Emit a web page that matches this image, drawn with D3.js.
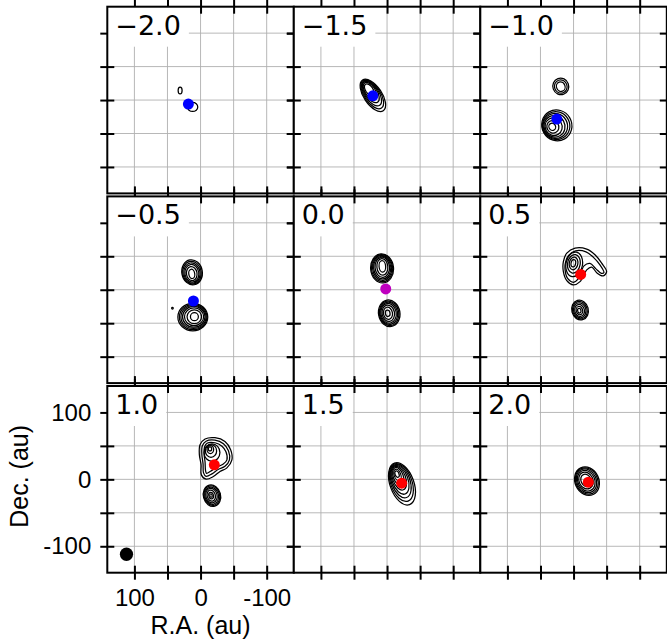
<!DOCTYPE html>
<html><head><meta charset="utf-8">
<script src="https://cdn.jsdelivr.net/npm/d3@7"></script>
<style>body{margin:0;background:#fff}</style>
</head><body>
<svg id="c" width="667" height="643"></svg>
<script>
// ---------- data ----------
const channels = ["\u22122.0","\u22121.5","\u22121.0","\u22120.5","0.0","0.5","1.0","1.5","2.0"];
const tickVals = [-100,-50,0,50,100];
const labelTicks = [100,0,-100];

// marker position (au) per channel
const dotRA  = [18.4, 21.5, 25.3, 10.8, 2.0, -10.8, -20.8, -22.1, -22.3];
const dotDec = [-6.0, 6.4, -28.5, -16.8, 1.2, 22.9, 21.7, -5.7, -4.2];
const dotSide = ["blue","blue","blue","blue","sys","red","red","red","red"];

// beam (au)
const beamRA = 112, beamDec = -112, beamMaj = 20, beamMin = 20;

// elliptical contour rings: [channel, RA, Dec, semi-axis a, semi-axis b, tilt deg]
const rings = [
 [0, 30.9, 14.4, 3, 5, 0],
 [0, 12, -10.3, 7.8, 6.8, 0],
 [1, 21.4, 7.0, 28, 13.5, 56],
 [1, 22.4, 8.6, 25, 12, 56],
 [1, 23.4, 10.2, 22, 10.5, 56],
 [1, 24.6, 12.0, 18.5, 9, 56],
 [1, 25.8, 13.8, 14.5, 7.5, 56],
 [1, 27.0, 15.5, 10, 5.5, 56],
 [2, 19.3, 20.4, 12, 12.5, -20],
 [2, 19.3, 20.2, 9.5, 10, -20],
 [2, 19.3, 20.0, 6.5, 7.2, -20],
 [2, 25.3, -37.8, 22.6, 23.3, -30],
 [2, 26.3, -38.2, 20.5, 21, -30],
 [2, 27.5, -38.7, 18.3, 18.8, -30],
 [2, 28.8, -39.3, 15.8, 16.3, -30],
 [2, 30.1, -39.8, 12.8, 13.3, -30],
 [2, 31.3, -40, 9, 9.5, -30],
 [2, 32.2, -40, 5, 5.5, -30],
 [3, 12.8, 26, 15.5, 18.8, -10],
 [3, 12.9, 25.5, 14, 17, -10],
 [3, 13.0, 25.0, 12.3, 15.2, -10],
 [3, 13.1, 24.6, 10.5, 13.2, -10],
 [3, 13.3, 24.1, 8, 10.5, -10],
 [3, 13.3, 23.7, 4.5, 7, -10],
 [3, 11.7, -40.8, 22.6, 20.6, 0],
 [3, 11.2, -40.7, 20.8, 19, 0],
 [3, 10.7, -40.6, 19, 17.3, 0],
 [3, 10.2, -40.5, 17, 15.5, 0],
 [3, 9.8, -40.4, 14.5, 13.3, 0],
 [3, 9.4, -40.3, 11, 10.3, 0],
 [3, 9.3, -40.3, 6, 6, 0],
 [3, 42.5, -27.7, 1.2, 1.2, 0],
 [4, 7.5, 31.9, 17.3, 21.8, -5],
 [4, 7.5, 32.3, 16, 20.3, -5],
 [4, 7.4, 32.7, 14.5, 18.7, -5],
 [4, 7.3, 33.1, 13, 17, -5],
 [4, 7.2, 33.6, 11, 15, -5],
 [4, 7.1, 34.2, 8.3, 12.5, -5],
 [4, 7.1, 34.9, 5, 8.5, -5],
 [4, -3.3, -35.2, 16.2, 20, -10],
 [4, -3.0, -35.2, 14.8, 18.4, -10],
 [4, -2.7, -35.2, 13.3, 16.7, -10],
 [4, -2.3, -35.2, 11.6, 14.8, -10],
 [4, -1.9, -35.2, 9.4, 12.3, -10],
 [4, -1.4, -35.2, 6.8, 9.2, -10],
 [4, -1.0, -35.2, 3.5, 4.8, -10],
 [5, -1.0, 38.0, 12.5, 18.5, 10],
 [5, -0.5, 38.7, 9.5, 14, 10],
 [5, 0.0, 39.3, 6.5, 9.5, 10],
 [5, 0.3, 39.7, 3.5, 5.5, 10],
 [5, -9.8, -30.3, 12.5, 15, -15],
 [5, -9.6, -30.5, 11, 13.3, -15],
 [5, -9.4, -30.7, 9.3, 11.3, -15],
 [5, -9.1, -30.9, 7.3, 9, -15],
 [5, -8.9, -31.1, 4.8, 6.3, -15],
 [5, -8.7, -31.3, 2.5, 3.5, -15],
 [6, -17.3, 40.0, 12, 13, 0],
 [6, -15.8, 42.5, 8.5, 9.5, 0],
 [6, -14.8, 44.5, 5, 6, 0],
 [6, -14.3, 45.5, 2.5, 3, 0],
 [6, -17.3, -24.4, 13, 16.2, -15],
 [6, -17.1, -24.4, 11.8, 14.8, -15],
 [6, -16.8, -24.4, 10.3, 13, -15],
 [6, -16.5, -24.3, 8.5, 11, -15],
 [6, -16.2, -24.3, 6.2, 8.5, -15],
 [6, -16.0, -24.3, 3.5, 5, -15],
 [6, -15.8, -24.3, 1.8, 2.5, -15],
 [7, -22.6, -6.7, 18, 33, -20],
 [7, -21.6, -4.7, 16, 29.5, -20],
 [7, -20.6, -2.7, 14, 26, -20],
 [7, -19.6, -0.7, 12, 22.5, -20],
 [7, -18.3, 1.8, 9.8, 18.5, -20],
 [7, -17.0, 4.3, 7.5, 14, -20],
 [7, -15.8, 6.5, 5, 9, -20],
 [7, -15.1, 7.8, 3, 5, -20],
 [8, -20.3, -2.7, 18, 22, -25],
 [8, -20.0, -2.5, 16.5, 20.3, -25],
 [8, -19.6, -2.2, 14.8, 18.3, -25],
 [8, -19.2, -2.0, 12.8, 16, -25],
 [8, -18.8, -1.7, 10.5, 13, -25],
 [8, -18.8, -1.5, 7.5, 9.5, -25]
];

// irregular contours as [RA, Dec] (au)
const hook05Outer = [[15.4,42.1],[10.2,54.7],[-2.3,62.2],[-19.9,60.7],[-32.4,52.2],[-42.5,39.7],[-50,27.1],[-44.9,20.7],[-35.8,24.7],[-27.4,33.7],[-19.9,29.7],[-9.8,12.1],[0.3,7.2],[10.2,13.6],[15.4,27.1]];
const hook05Mid = [[12.0,41.7],[7.5,51.4],[-3.0,58.2],[-18.8,56.7],[-30.1,48.4],[-39.9,37.2],[-45.9,25.9],[-42.2,24.4],[-33.9,31.2],[-24.8,39.4],[-15.8,35.7],[-7.5,16.9],[0,11.2],[9.0,16.9],[12.8,29.7]];
const blob10Outer = [[0.8,51.7],[-6.8,60.3],[-21.8,62.2],[-36.9,56.7],[-45.5,44.2],[-47.4,29.2],[-39.5,16.8],[-29.4,11.7],[-19.3,4.2],[-8.3,0.3],[-1.2,6.7],[-0.8,21.7],[1.8,36.7]];
const blob10Mid = [[-2.7,50.2],[-8.3,57],[-21.8,58.5],[-34.6,53.2],[-42.2,42.7],[-43.7,29.2],[-36.9,19.5],[-27.1,15],[-17.3,8.2],[-8.3,4.5],[-4.5,9.7],[-3.8,23.2],[-2,36.7]];
const blob10Inner = [[-6,48.4],[-9.8,54],[-21.8,54.7],[-32.4,49.5],[-38.4,41.2],[-39.9,29.2],[-33.9,22.5],[-24.1,18],[-15.1,12],[-9,9],[-7.5,13.5],[-6.8,26.2],[-5.3,38.2]];
const freeContours = [[5, hook05Outer],[5, hook05Mid],[6, blob10Outer],[6, blob10Mid],[6, blob10Inner]];

// ---------- layout / style ----------
const colLeft = [107.3, 293.8, 480.3], rowTop = [6.7, 196.4, 386.0];
const pw = 186.5, ph = 186.7;
const sideColor = {blue:"#0000ff", red:"#ff0000", sys:"#bf00bf"};
const numFont = "'Liberation Sans', Arial, sans-serif";

const x = d3.scaleLinear().domain([141, -141]).range([0, pw]);
const y = d3.scaleLinear().domain([-139.5, 139.5]).range([ph, 0]);
const kx = Math.abs(x(1) - x(0)), ky = Math.abs(y(1) - y(0));

const svg = d3.select("#c");
svg.append("rect").attr("width", 667).attr("height", 643).attr("fill", "#fff");

const line = d3.line().x(d => x(d[0])).y(d => y(d[1])).curve(d3.curveCatmullRomClosed.alpha(0.5));

channels.forEach((lab, i) => {
  const r = Math.floor(i / 3), c = i % 3;
  const g = svg.append("g").attr("transform", `translate(${colLeft[c]},${rowTop[r]})`);
  g.append("rect").attr("width", pw).attr("height", ph).attr("fill", "#fff");
  const cid = "clip" + i;
  g.append("clipPath").attr("id", cid).append("rect").attr("width", pw).attr("height", ph);
  const inner = g.append("g").attr("clip-path", `url(#${cid})`);

  // grid
  inner.selectAll("line.gx").data(tickVals).join("line").attr("class","gx")
    .attr("x1", d => x(d)).attr("x2", d => x(d)).attr("y1", 0).attr("y2", ph)
    .attr("stroke", "#b0b0b0").attr("stroke-width", 0.9);
  inner.selectAll("line.gy").data(tickVals).join("line").attr("class","gy")
    .attr("y1", d => y(d)).attr("y2", d => y(d)).attr("x1", 0).attr("x2", pw)
    .attr("stroke", "#b0b0b0").attr("stroke-width", 0.9);

  // contours
  inner.selectAll("ellipse.ring").data(rings.filter(d => d[0] === i)).join("ellipse")
    .attr("class", "ring")
    .attr("cx", d => x(d[1])).attr("cy", d => y(d[2]))
    .attr("rx", d => d[3] * kx).attr("ry", d => d[4] * ky)
    .attr("transform", d => `rotate(${d[5]},${x(d[1])},${y(d[2])})`)
    .attr("fill", "none").attr("stroke", "#000").attr("stroke-width", 1.25);
  inner.selectAll("path.free").data(freeContours.filter(d => d[0] === i)).join("path")
    .attr("class", "free").attr("d", d => line(d[1]))
    .attr("fill", "none").attr("stroke", "#000").attr("stroke-width", 1.25);

  // marker
  inner.append("circle").attr("cx", x(dotRA[i])).attr("cy", y(dotDec[i])).attr("r", 5.5)
    .attr("fill", sideColor[dotSide[i]]);

  // beam
  if (r === 2 && c === 0) {
    inner.append("ellipse").attr("cx", x(beamRA)).attr("cy", y(beamDec))
      .attr("rx", beamMaj / 2 * kx).attr("ry", beamMin / 2 * ky).attr("fill", "#000");
  }

  // axes (in-out ticks on all sides)
  const labeled = (r === 2 && c === 0);
  const fmt = d => (labeled && labelTicks.includes(d)) ? String(d) : "";
  const axB = g.append("g").attr("transform", `translate(0,${ph})`)
    .call(d3.axisBottom(x).tickValues(tickVals).tickSize(7).tickPadding(9).tickFormat(fmt));
  const axT = g.append("g").call(d3.axisTop(x).tickValues(tickVals).tickSize(7).tickFormat(""));
  const axL = g.append("g").call(d3.axisLeft(y).tickValues(tickVals).tickSize(7).tickPadding(9).tickFormat(fmt));
  const axR = g.append("g").attr("transform", `translate(${pw},0)`)
    .call(d3.axisRight(y).tickValues(tickVals).tickSize(7).tickFormat(""));
  [axB, axT, axL, axR].forEach(a => {
    a.select(".domain").remove();
    a.selectAll("line").attr("stroke", "#000").attr("stroke-width", 2);
    a.selectAll("text").attr("font-family", numFont).attr("font-size", 24).attr("fill", "#000");
  });
  axB.selectAll(".tick line").attr("y1", -7);
  axT.selectAll(".tick line").attr("y1", 7);
  axL.selectAll(".tick line").attr("x1", 7);
  axR.selectAll(".tick line").attr("x1", -7);

  // channel label with white box
  const box = g.append("rect").attr("x", 0).attr("y", 0).attr("height", 40).attr("fill", "#fff");
  const t = g.append("text").attr("x", 8).attr("y", 28)
    .attr("font-family", "'DejaVu Sans', sans-serif").attr("font-size", 27).attr("fill", "#000").text(lab);
  box.attr("width", t.node().getComputedTextLength() + 16);

  // border
  g.append("rect").attr("width", pw).attr("height", ph).attr("fill", "none")
    .attr("stroke", "#000").attr("stroke-width", 2);
});

// axis titles
svg.append("text").attr("x", colLeft[0] + pw / 2).attr("y", 634).attr("text-anchor", "middle")
  .attr("font-family", numFont).attr("font-size", 25).text("R.A. (au)");
svg.append("text").attr("transform", `translate(28,${rowTop[2] + ph / 2 - 3}) rotate(-90)`)
  .attr("text-anchor", "middle").attr("font-family", numFont).attr("font-size", 25).text("Dec. (au)");
</script>
</body></html>
